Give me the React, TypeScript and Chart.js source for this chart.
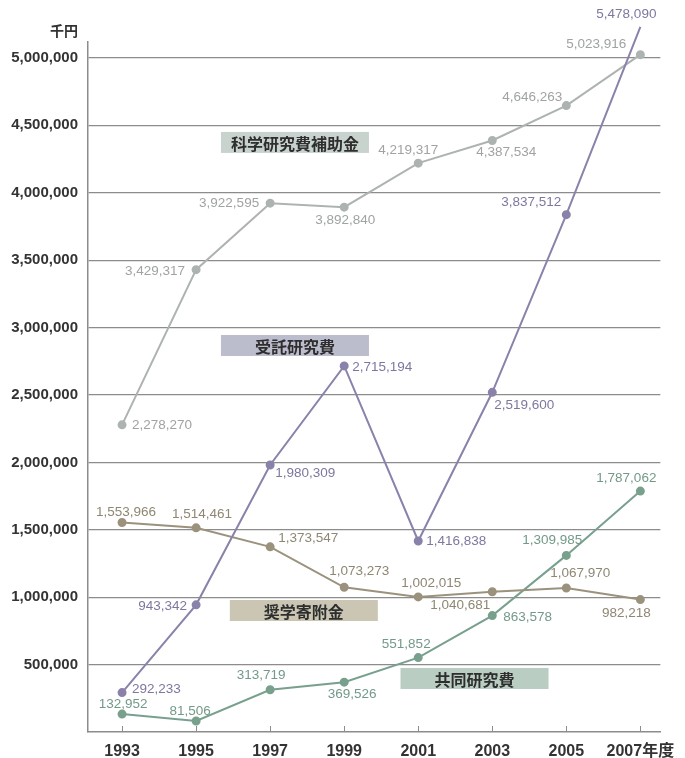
import React, { useEffect, useRef } from "react";
import { Chart, registerables } from "chart.js";

Chart.register(...registerables);

// ---- data ----
const years = [1993, 1995, 1997, 1999, 2001, 2003, 2005, 2007];
const yTicks = [500000, 1000000, 1500000, 2000000, 2500000, 3000000, 3500000, 4000000, 4500000, 5000000];

const kakenName = "科学研究費補助金";
const kakenValues = [2278270, 3429317, 3922595, 3892840, 4219317, 4387534, 4646263, 5023916];

const jutakuName = "受託研究費";
const jutakuValues = [292233, 943342, 1980309, 2715194, 1416838, 2519600, 3837512, 5478090];

const shogakuName = "奨学寄附金";
const shogakuValues = [1553966, 1514461, 1373547, 1073273, 1002015, 1040681, 1067970, 982218];

const kyodoName = "共同研究費";
const kyodoValues = [132952, 81506, 313719, 369526, 551852, 863578, 1309985, 1787062];

// the original chart clips its top: values above this are drawn at the top edge
const plotCap = 5230000;

// ---- styles / label placement (pixel offsets from each point) ----
type Pos = [number, number, CanvasTextAlign];
const kakenPos: Pos[] = [[10, 0, "left"], [-11, 2, "right"], [-11, 0, "right"], [1, 13, "center"], [-10, -13, "center"], [14, 12, "center"], [-4, -8, "right"], [-14, -10, "right"]];
const jutakuPos: Pos[] = [[10, -3, "left"], [-9, 1, "right"], [5, 8, "left"], [8, 1, "left"], [8, 0, "left"], [2, 13, "left"], [-5, -12, "right"], [-14, -13, "center"]];
const shogakuPos: Pos[] = [[4, -10, "center"], [6, -14, "center"], [8, -9, "left"], [15, -16, "center"], [13, -14, "center"], [-2, 14, "right"], [14, -15, "center"], [-14, 14, "center"]];
const kyodoPos: Pos[] = [[1, -10, "center"], [-6, -10, "center"], [-9, -14, "center"], [8, 12, "center"], [-12, -13, "center"], [11, 2, "left"], [-14, -15, "center"], [-14, -13, "center"]];

const series = [
  { name: jutakuName, values: jutakuValues, pos: jutakuPos, line: "#8a82aa", text: "#7f779f", box: "#bbbccc", boxX: 1997.67, boxY: 2867000 },
  { name: shogakuName, values: shogakuValues, pos: shogakuPos, line: "#9b927d", text: "#8f8773", box: "#cac6b3", boxX: 1997.91, boxY: 901000 },
  { name: kyodoName, values: kyodoValues, pos: kyodoPos, line: "#78a08d", text: "#739a88", box: "#b9cdc2", boxX: 2002.52, boxY: 397000 },
  { name: kakenName, values: kakenValues, pos: kakenPos, line: "#adb3b0", text: "#9fa4a1", box: "#c9d3ce", boxX: 1997.67, boxY: 4373000 },
];

const fmt = (v: number) => v.toLocaleString("en-US");
const LATIN = "'Liberation Sans', Arial, 'Noto Sans CJK JP', sans-serif";
const CJK = "'Noto Sans CJK JP', 'Liberation Sans', sans-serif";

const decorPlugin = {
  id: "decor",
  beforeDatasetsDraw(chart: any) {
    const ctx = chart.ctx;
    const xs = chart.scales.x;
    const ys = chart.scales.y;
    ctx.save();
    // name boxes
    series.forEach((s) => {
      const cx = xs.getPixelForValue(s.boxX);
      const cy = ys.getPixelForValue(s.boxY);
      const w = 148, h = 21;
      ctx.fillStyle = s.box;
      ctx.fillRect(cx - w / 2, cy - h / 2, w, h);
      ctx.fillStyle = "#2e2e2e";
      ctx.font = "bold 16px " + CJK;
      ctx.textAlign = "center";
      ctx.textBaseline = "middle";
      ctx.fillText(s.name, cx, cy + 1);
    });
    // inner tick marks on x axis
    ctx.strokeStyle = "#8c8c8c";
    ctx.lineWidth = 1;
    const bottom = chart.chartArea.bottom;
    years.forEach((yr) => {
      const x = Math.round(xs.getPixelForValue(yr)) + 0.5;
      ctx.beginPath();
      ctx.moveTo(x, bottom - 6);
      ctx.lineTo(x, bottom);
      ctx.stroke();
    });
    // unit label
    ctx.fillStyle = "#333";
    ctx.font = "bold 14px " + CJK;
    ctx.textAlign = "right";
    ctx.textBaseline = "middle";
    ctx.fillText("千円", 78, 31);
    ctx.restore();
  },
  afterDatasetsDraw(chart: any) {
    const ctx = chart.ctx;
    ctx.save();
    ctx.font = "13.5px " + LATIN;
    ctx.textBaseline = "middle";
    series.forEach((s, i) => {
      const meta = chart.getDatasetMeta(i);
      meta.data.forEach((pt: any, j: number) => {
        const [dx, dy, align] = s.pos[j];
        ctx.fillStyle = s.text;
        ctx.textAlign = align;
        ctx.fillText(fmt(s.values[j]), pt.x + dx, pt.y + dy);
      });
    });
    ctx.restore();
  },
};

export default function App() {
  const ref = useRef<HTMLCanvasElement | null>(null);
  useEffect(() => {
    if (!ref.current) return;
    const chart = new Chart(ref.current, {
      type: "line",
      data: {
        datasets: series.map((s) => ({
          label: s.name,
          data: years.map((yr, k) => ({ x: yr, y: Math.min(s.values[k], plotCap) })),
          borderColor: s.line,
          backgroundColor: s.line,
          pointBackgroundColor: s.line,
          pointBorderColor: s.line,
          borderWidth: 2,
          pointRadius: 3.5,
          pointHoverRadius: 3.5,
          tension: 0,
          clip: false as any,
        })),
      },
      options: {
        animation: false,
        responsive: false,
        events: [],
        layout: { padding: { top: 42, right: 24, left: 0, bottom: 0 } },
        plugins: { legend: { display: false }, tooltip: { enabled: false }, title: { display: false } },
        scales: {
          x: {
            type: "linear",
            min: 1992.08,
            max: 2007.54,
            afterBuildTicks: (ax: any) => { ax.ticks = years.map((v) => ({ value: v })); },
            afterFit: (ax: any) => { ax.height = 26; },
            grid: { display: false, drawTicks: false },
            border: { display: true, color: "#8c8c8c", width: 1.5 },
            ticks: {
              autoSkip: false,
              maxRotation: 0,
              padding: 10,
              color: "#333",
              font: { family: LATIN, size: 16, weight: "bold" },
              callback: (v: any) => (v === 2007 ? "2007年度" : String(v)),
            },
          },
          y: {
            type: "linear",
            min: 0,
            max: 5118000,
            afterBuildTicks: (ax: any) => { ax.ticks = yTicks.map((v) => ({ value: v })); },
            afterFit: (ax: any) => { ax.width = 88; },
            grid: { color: "#8c8c8c", lineWidth: 1.2, drawTicks: false },
            border: { display: true, color: "#8c8c8c", width: 1.5 },
            ticks: {
              padding: 10,
              color: "#333",
              font: { family: LATIN, size: 15, weight: "bold" },
              callback: (v: any) => fmt(Number(v)),
            },
          },
        },
      },
      plugins: [decorPlugin],
    });
    return () => chart.destroy();
  }, []);
  return (
    <canvas
      ref={ref}
      width={685}
      height={758}
      style={{ position: "absolute", left: 0, top: 0, display: "block", background: "#fff" }}
    />
  );
}
